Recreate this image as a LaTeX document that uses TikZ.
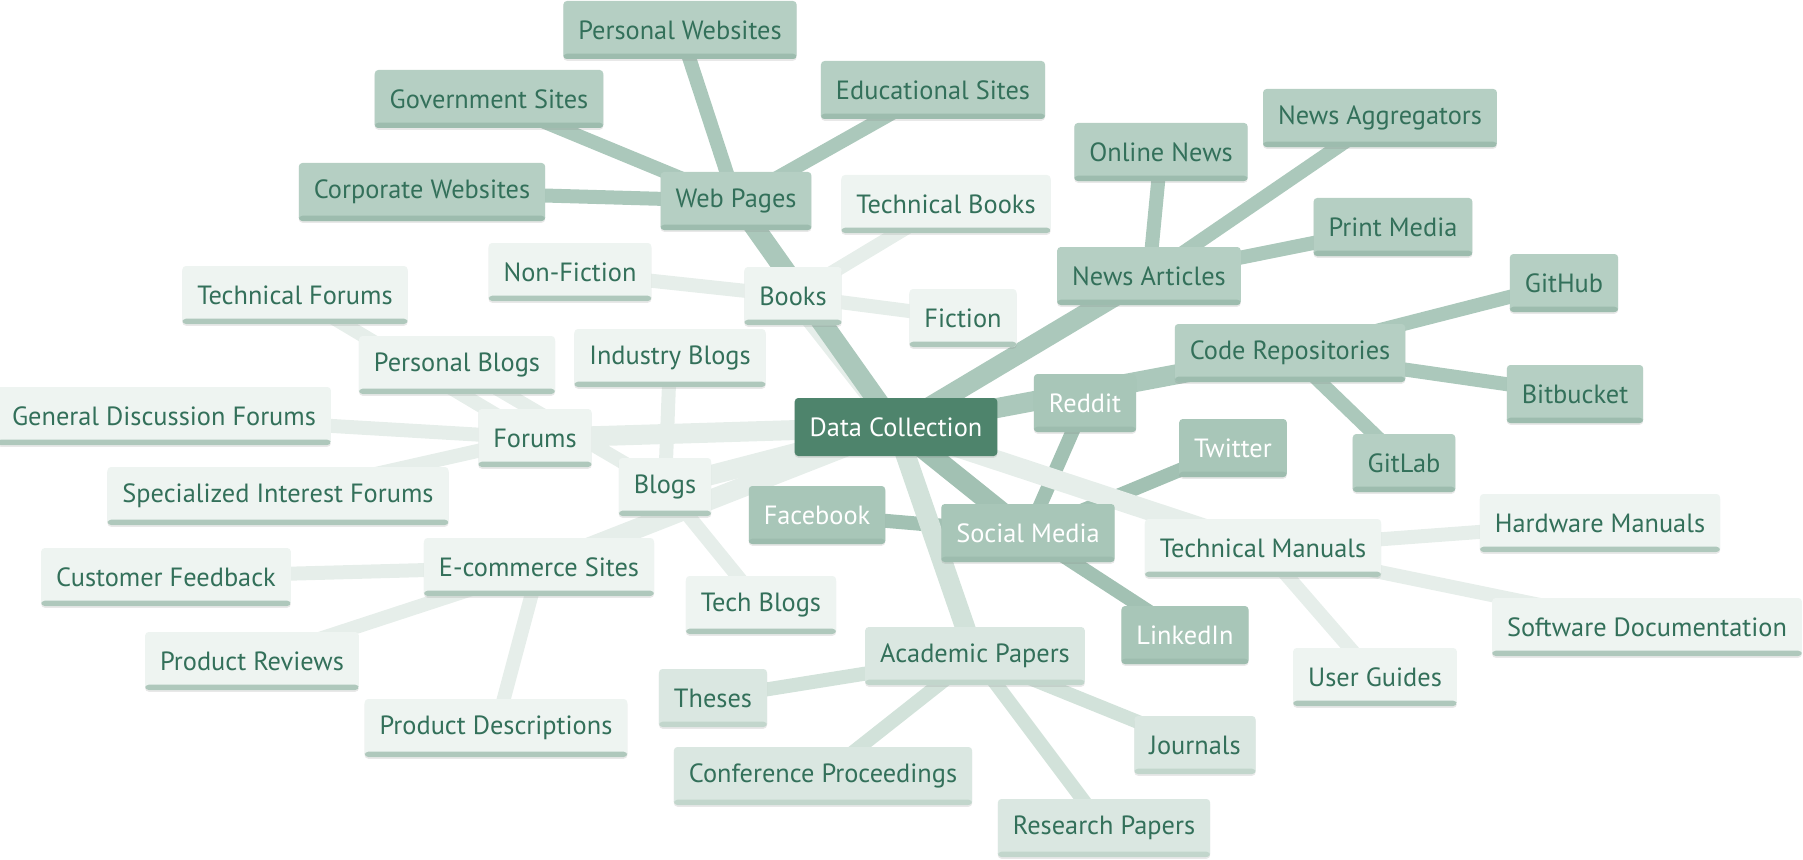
\documentclass[tikz,border=0pt]{standalone}
\usepackage{fontspec}
\setmainfont{PT Sans}
\usetikzlibrary{backgrounds,shadows}

\definecolor{rootgreen}{HTML}{4E846C}
\definecolor{txtgreen}{HTML}{33705A}
\definecolor{midfill}{HTML}{B5CFC3}
\definecolor{midline}{HTML}{ABC8BB}
\definecolor{midstrip}{HTML}{9DBCAE}
\definecolor{socfill}{HTML}{A8C6B8}
\definecolor{socline}{HTML}{A2C1B3}
\definecolor{acadfill}{HTML}{DAE7E1}
\definecolor{acadline}{HTML}{D2E2DA}
\definecolor{acadstrip}{HTML}{C2D6CC}
\definecolor{lightfill}{HTML}{EEF4F1}
\definecolor{lightline}{HTML}{E6EEEA}
\definecolor{lightstrip}{HTML}{AFC8BC}

\tikzset{bottomstrip/.style = {path picture = {
    \fill[#1] ([yshift=3pt]path picture bounding box.south west) rectangle (path picture bounding box.south east);}},
  box/.style = {rectangle, rounded corners=2pt, inner xsep=3mm, inner ysep=0pt,
    minimum height=11.6mm, font=\fontsize{15}{18}\selectfont, text=txtgreen,
    drop shadow={shadow xshift=0pt, shadow yshift=-1pt, opacity=.18}},
  rootbox/.style = {box, fill=rootgreen, text=white},
  midbox/.style = {box, fill=midfill, bottomstrip=midstrip},
  socbox/.style = {box, fill=socfill, text=white, bottomstrip=midstrip},
  acadbox/.style = {box, fill=acadfill, bottomstrip=acadstrip},
  lightbox/.style = {box, fill=lightfill, bottomstrip=lightstrip},
  trunk/.style = {line width=4mm},
  twig/.style = {line width=2.8mm}}

\begin{document}
\begin{tikzpicture}[x=0.2mm, y=-0.2mm]
    \useasboundingbox (0,0) rectangle (1803,860);

    % centre
    \node[rootbox] (dc) at (896,427) {Data Collection};

    % web pages
    \node[midbox] (web) at (736,201) {Web Pages};
    \node[midbox] (pweb) at (680,30) {Personal Websites};
    \node[midbox] (gov) at (489,99) {Government Sites};
    \node[midbox] (edu) at (933,90) {Educational Sites};
    \node[midbox] (corp) at (422,192) {Corporate Websites};

    % books
    \node[lightbox] (books) at (793,296) {Books};
    \node[lightbox] (nonfic) at (570,272) {Non-Fiction};
    \node[lightbox] (techbooks) at (946,204) {Technical Books};
    \node[lightbox] (fic) at (963,318) {Fiction};

    % forums
    \node[lightbox] (forums) at (535,438) {Forums};
    \node[lightbox] (techfor) at (295,295) {Technical Forums};
    \node[lightbox] (genfor) at (164,416) {General Discussion Forums};
    \node[lightbox] (specfor) at (278,496) {Specialized Interest Forums};

    % blogs
    \node[lightbox] (blogs) at (665,487) {Blogs};
    \node[lightbox] (perblog) at (457,365) {Personal Blogs};
    \node[lightbox] (indblog) at (670,358) {Industry Blogs};
    \node[lightbox] (techblog) at (761,605) {Tech Blogs};

    % e-commerce
    \node[lightbox] (ecom) at (539,567) {E-commerce Sites};
    \node[lightbox] (feedback) at (166,577) {Customer Feedback};
    \node[lightbox] (reviews) at (252,661) {Product Reviews};
    \node[lightbox] (descr) at (496,728) {Product Descriptions};

    % social media
    \node[socbox] (social) at (1028,533) {Social Media};
    \node[socbox] (fb) at (817,515) {Facebook};
    \node[socbox] (reddit) at (1085,403) {Reddit};
    \node[socbox] (twitter) at (1233,448) {Twitter};
    \node[socbox] (linkedin) at (1185,635) {LinkedIn};

    % news
    \node[midbox] (news) at (1149,276) {News Articles};
    \node[midbox] (online) at (1161,152) {Online News};
    \node[midbox] (aggr) at (1380,118) {News Aggregators};
    \node[midbox] (print) at (1393,227) {Print Media};

    % code
    \node[midbox] (code) at (1290,353) {Code Repositories};
    \node[midbox] (github) at (1564,283) {GitHub};
    \node[midbox] (bitbucket) at (1575,394) {Bitbucket};
    \node[midbox] (gitlab) at (1404,463) {GitLab};

    % manuals
    \node[lightbox] (manuals) at (1263,548) {Technical Manuals};
    \node[lightbox] (hardware) at (1600,523) {Hardware Manuals};
    \node[lightbox] (software) at (1647,627) {Software Documentation};
    \node[lightbox] (guides) at (1375,677) {User Guides};

    % papers
    \node[acadbox] (acad) at (975,656) {Academic Papers};
    \node[acadbox] (theses) at (713,698) {Theses};
    \node[acadbox] (journals) at (1195,745) {Journals};
    \node[acadbox] (conf) at (823,776) {Conference Proceedings};
    \node[acadbox] (research) at (1104,828) {Research Papers};

    \begin{scope}[on background layer]
        \draw[twig, midline] (web.center) -- (pweb.center);
        \draw[twig, midline] (web.center) -- (gov.center);
        \draw[twig, midline] (web.center) -- (edu.center);
        \draw[twig, midline] (web.center) -- (corp.center);

        \draw[twig, lightline] (books.center) -- (nonfic.center);
        \draw[twig, lightline] (books.center) -- (techbooks.center);
        \draw[twig, lightline] (books.center) -- (fic.center);

        \draw[twig, lightline] (forums.center) -- (techfor.center);
        \draw[twig, lightline] (forums.center) -- (genfor.center);
        \draw[twig, lightline] (forums.center) -- (specfor.center);

        \draw[twig, lightline] (blogs.center) -- (perblog.center);
        \draw[twig, lightline] (blogs.center) -- (indblog.center);
        \draw[twig, lightline] (blogs.center) -- (techblog.center);

        \draw[twig, lightline] (ecom.center) -- (feedback.center);
        \draw[twig, lightline] (ecom.center) -- (reviews.center);
        \draw[twig, lightline] (ecom.center) -- (descr.center);

        \draw[twig, socline] (social.center) -- (fb.center);
        \draw[twig, socline] (social.center) -- (reddit.center);
        \draw[twig, socline] (social.center) -- (twitter.center);
        \draw[twig, socline] (social.center) -- (linkedin.center);

        \draw[twig, midline] (news.center) -- (online.center);
        \draw[twig, midline] (news.center) -- (aggr.center);
        \draw[twig, midline] (news.center) -- (print.center);

        \draw[twig, midline] (code.center) -- (github.center);
        \draw[twig, midline] (code.center) -- (bitbucket.center);
        \draw[twig, midline] (code.center) -- (gitlab.center);

        \draw[twig, lightline] (manuals.center) -- (hardware.center);
        \draw[twig, lightline] (manuals.center) -- (software.center);
        \draw[twig, lightline] (manuals.center) -- (guides.center);

        \draw[twig, acadline] (acad.center) -- (theses.center);
        \draw[twig, acadline] (acad.center) -- (journals.center);
        \draw[twig, acadline] (acad.center) -- (conf.center);
        \draw[twig, acadline] (acad.center) -- (research.center);

        \draw[trunk, lightline] (dc.center) -- (books.center);
        \draw[trunk, lightline] (dc.center) -- (forums.center);
        \draw[trunk, lightline] (dc.center) -- (blogs.center);
        \draw[trunk, lightline] (dc.center) -- (ecom.center);
        \draw[trunk, lightline] (dc.center) -- (manuals.center);
        \draw[trunk, acadline] (dc.center) -- (acad.center);
        \draw[trunk, midline] (dc.center) -- (web.center);
        \draw[trunk, midline] (dc.center) -- (news.center);
        \draw[trunk, midline] (dc.center) -- (code.center);
        \draw[trunk, socline] (dc.center) -- (social.center);
    \end{scope}
\end{tikzpicture}
\end{document}
